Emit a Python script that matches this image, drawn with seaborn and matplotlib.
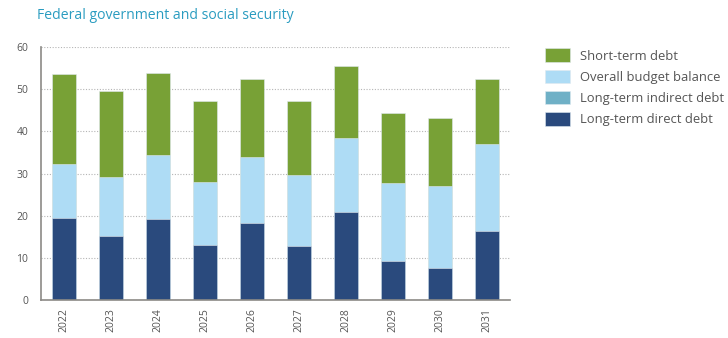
import numpy as np
import pandas as pd
import matplotlib
matplotlib.use("Agg")
import matplotlib.pyplot as plt
from matplotlib.patches import Patch
import seaborn as sns

years = ["2022", "2023", "2024", "2025", "2026", "2027", "2028", "2029", "2030", "2031"]
long_term_direct = [19.5, 15.2, 19.2, 13.1, 18.2, 12.9, 20.9, 9.3, 7.6, 16.5]
long_term_indirect = [0, 0, 0, 0, 0, 0, 0, 0, 0, 0]
budget_balance = [12.8, 14.0, 15.1, 15.0, 15.8, 16.7, 17.6, 18.4, 19.5, 20.5]
short_term = [21.2, 20.3, 19.5, 19.0, 18.4, 17.7, 17.1, 16.7, 16.0, 15.4]

series_names = ["Short-term debt", "Overall budget balance",
                "Long-term indirect debt", "Long-term direct debt"]
colors = {
    "Short-term debt": "#78a136",
    "Overall budget balance": "#aedcf5",
    "Long-term indirect debt": "#6fb0c6",
    "Long-term direct debt": "#2a4a7d",
}

df = pd.DataFrame({
    "year": years,
    "Long-term direct debt": long_term_direct,
    "Long-term indirect debt": long_term_indirect,
    "Overall budget balance": budget_balance,
    "Short-term debt": short_term,
})
# cumulative heights for stacking (bottom to top)
stack_order = ["Long-term direct debt", "Long-term indirect debt",
               "Overall budget balance", "Short-term debt"]
cum = df[stack_order].cumsum(axis=1)

sns.set_theme(style="white")
plt.rcParams["font.family"] = ["Open Sans", "DejaVu Sans"]

fig = plt.figure(figsize=(7.28, 3.38), dpi=100)
ax = fig.add_axes([0.056, 0.112, 0.645, 0.749])

# draw from the tallest cumulative total to the smallest so each segment shows
for name in reversed(stack_order):
    sns.barplot(x=df["year"], y=cum[name], color=colors[name], ax=ax,
                width=0.51, saturation=1, edgecolor="#dfe9f0", linewidth=0.4)

ax.set_xlim(-0.5, len(years) - 0.5)
ax.set_ylim(0, 60)
ax.set_yticks(np.arange(0, 61, 10))
ax.set_xlabel("")
ax.set_ylabel("")

grid_color = "#b5b5b5"
ax.yaxis.grid(True, linestyle=(0, (1, 1.5)), color=grid_color, linewidth=0.8)
ax.set_axisbelow(True)

for s in ["top", "right"]:
    ax.spines[s].set_visible(False)
for s in ["left", "bottom"]:
    ax.spines[s].set_color("#8c8a86")
    ax.spines[s].set_linewidth(1.2)

# year labels centred under bars, separators between slots
ax.set_xticks(range(len(years)))
ax.set_xticklabels(years, rotation=90, fontsize=7.5, color="#555555")
ax.set_xticks(np.arange(0.5, len(years), 1.0), minor=True)
ax.tick_params(axis="x", which="major", length=0, pad=6)
ax.tick_params(axis="x", which="minor", direction="in", length=5,
               width=1.0, color="#8c8a86")
ax.tick_params(axis="y", direction="out", length=6, width=1.0,
               color="#8c8a86", labelsize=7.5, labelcolor="#555555", pad=3)

fig.text(0.051, 0.955, "Federal government and social security",
         fontsize=10.1, color="#2a9cc0", va="center", ha="left")

handles = [Patch(facecolor=colors[n], edgecolor="#dfe9f0", linewidth=0.4)
           for n in series_names]
fig.legend(handles, series_names, loc="upper left",
           bbox_to_anchor=(0.7395, 0.876), frameon=False, fontsize=9.4,
           labelcolor="#555555", handlelength=1.95, handleheight=1.2,
           handletextpad=0.76, labelspacing=0.55, borderpad=0)

fig.savefig("out.png", dpi=100)
